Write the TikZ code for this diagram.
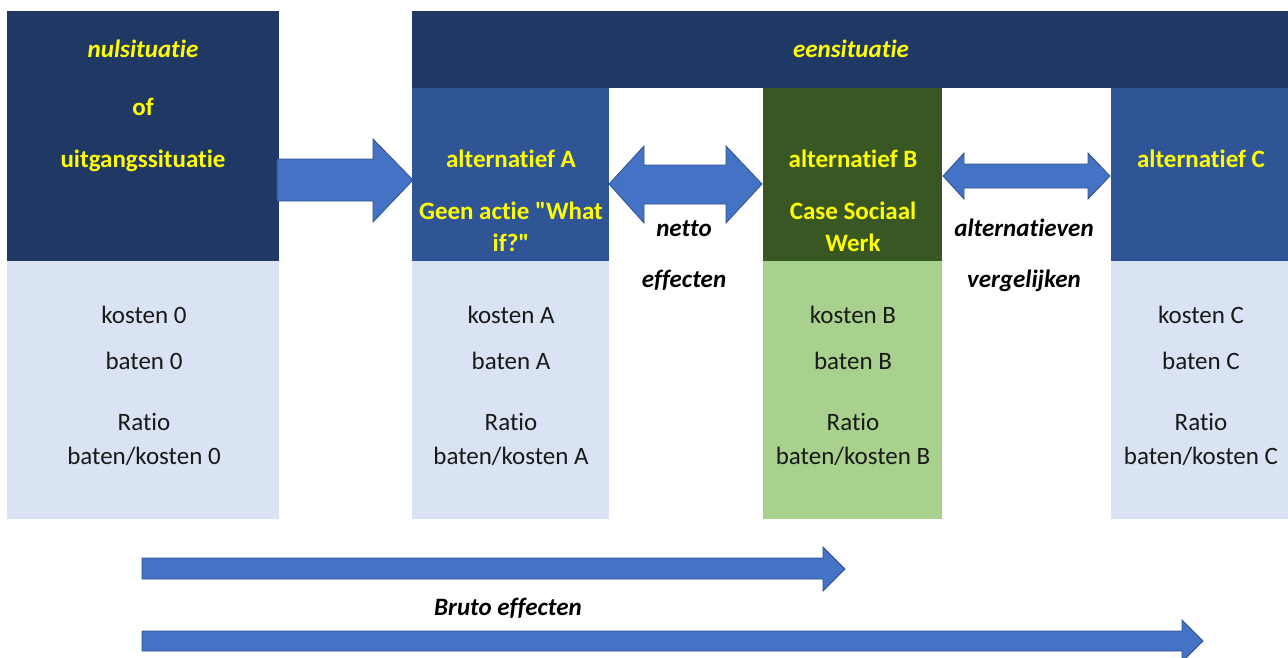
\documentclass[tikz,border=0pt]{standalone}
\usepackage{fontspec}
\setmainfont[Ligatures={NoCommon,NoContextual,TeXOff}]{Carlito}
\definecolor{navy}{HTML}{203864}
\definecolor{midblue}{HTML}{2F5597}
\definecolor{lightblue}{HTML}{DAE3F3}
\definecolor{darkgreen}{HTML}{385723}
\definecolor{lightgreen}{HTML}{A9D18E}
\definecolor{arrowfill}{HTML}{4472C4}
\definecolor{arrowline}{HTML}{2F528F}
\definecolor{hilite}{HTML}{FFFF00}
\tikzset{
  box/.style={draw=none, inner sep=0pt, anchor=north west},
  blockarrow/.style={fill=arrowfill, draw=arrowline, line width=0.8pt, line join=miter},
  ytext/.style={text=hilite, font=\fontsize{25}{31}\selectfont\bfseries, anchor=base, inner sep=0pt},
  yitext/.style={text=hilite, font=\fontsize{25}{31}\selectfont\bfseries\itshape, anchor=base, inner sep=0pt},
  btext/.style={text=black, font=\fontsize{25}{31}\selectfont\bfseries\itshape, anchor=base, inner sep=0pt},
  ntext/.style={text=black!90, font=\fontsize{25}{31}\selectfont, anchor=base, inner sep=0pt},
}
\begin{document}
\begin{tikzpicture}[x=1pt, y=-1pt]
\useasboundingbox (0,0) rectangle (1288,657);
\clip (0,0) rectangle (1288,657);
% boxes
\node[box, fill=navy, minimum width=272pt, minimum height=250pt] (nul) at (7,11) {};
\node[box, fill=lightblue, minimum width=272pt, minimum height=258pt] (nullow) at (7,261) {};
\node[box, fill=navy, minimum width=876pt, minimum height=77pt] (een) at (412,11) {};
\node[box, fill=midblue, minimum width=197pt, minimum height=173pt] (altA) at (412,88) {};
\node[box, fill=lightblue, minimum width=197pt, minimum height=258pt] (altAlow) at (412,261) {};
\node[box, fill=darkgreen, minimum width=179pt, minimum height=173pt] (altB) at (763,88) {};
\node[box, fill=lightgreen, minimum width=179pt, minimum height=258pt] (altBlow) at (763,261) {};
\node[box, fill=midblue, minimum width=177pt, minimum height=173pt] (altC) at (1111,88) {};
\node[box, fill=lightblue, minimum width=177pt, minimum height=258pt] (altClow) at (1111,261) {};
% block arrows
\draw[blockarrow] (277,159) -- (373,159) -- (373,139) -- (413,180) -- (373,222) -- (373,201) -- (277,201) -- cycle;
\draw[blockarrow] (609,184) -- (644,146) -- (644,165) -- (726,165) -- (726,146) -- (762,184) -- (726,223) -- (726,204) -- (644,204) -- (644,223) -- cycle;
\draw[blockarrow] (943,176) -- (964,153) -- (964,164) -- (1088,164) -- (1088,153) -- (1110,176) -- (1088,199) -- (1088,188) -- (964,188) -- (964,199) -- cycle;
\draw[blockarrow] (142,558) -- (823,558) -- (823,547) -- (845,569) -- (823,591) -- (823,579) -- (142,579) -- cycle;
\draw[blockarrow] (142,631) -- (1182,631) -- (1182,620) -- (1203,641) -- (1182,662) -- (1182,651) -- (142,651) -- cycle;
% header texts
\node[yitext] (t1) at (143,57) {nulsituatie};
\node[ytext] (t2) at (143,115) {of};
\node[ytext] (t3) at (143,167) {uitgangssituatie};
\node[yitext] (t4) at (851,57) {eensituatie};
\node[ytext] (tA1) at (511,167) {alternatief A};
\node[ytext] (tA2) at (511,219) {Geen actie "What};
\node[ytext] (tA3) at (511,251) {if?"};
\node[ytext] (tB1) at (853,167) {alternatief B};
\node[ytext] (tB2) at (853,219) {Case Sociaal};
\node[ytext] (tB3) at (853,251) {Werk};
\node[ytext] (tC1) at (1201,167) {alternatief C};
% arrow labels
\node[btext] (n1) at (684,236) {netto};
\node[btext] (n2) at (684,287) {effecten};
\node[btext] (v1) at (1024,236) {alternatieven};
\node[btext] (v2) at (1024,287) {vergelijken};
\node[btext] (bruto) at (508,615) {Bruto effecten};
% lower texts
\foreach \cx/\lab/\nm in {144/0/z, 511/A/a, 853/B/b, 1201/C/c}{
  \node[ntext] (k\nm) at (\cx,323) {kosten \lab};
  \node[ntext] (b\nm) at (\cx,369) {baten \lab};
  \node[ntext] (r\nm) at (\cx,430) {Ratio};
  \node[ntext] (q\nm) at (\cx,464) {baten/kosten \lab};
}
\end{tikzpicture}
\end{document}
